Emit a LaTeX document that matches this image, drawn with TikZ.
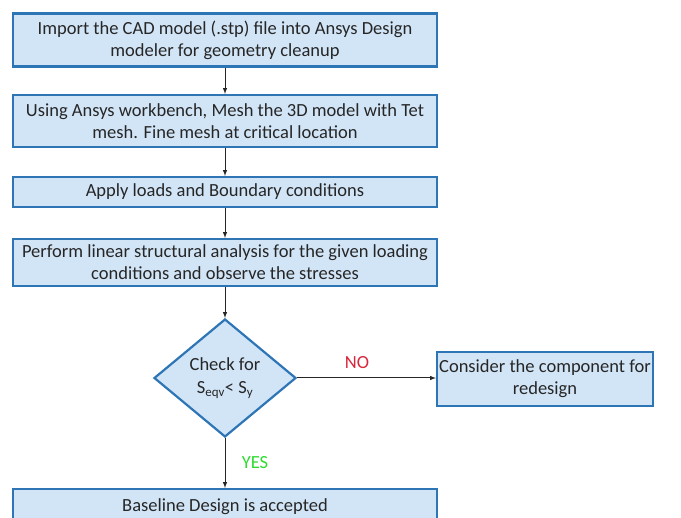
\documentclass[tikz,border=0pt]{standalone}
\usepackage{fontspec}
\setmainfont{Carlito}
\usetikzlibrary{shapes.geometric}
\definecolor{boxfill}{HTML}{D2E5F7}
\definecolor{boxline}{HTML}{2E75B6}
\definecolor{nored}{HTML}{D7263D}
\definecolor{yesgreen}{HTML}{2EDB2E}

\begin{document}
\begin{tikzpicture}[x=1pt,y=-1pt,
  stepbox/.style={draw=boxline,line width=2.2pt,fill=boxfill,align=center,
    inner sep=0pt,text=black!85,font=\fontsize{18.5}{22}\selectfont},
  checkbox/.style={diamond,draw=boxline,line width=2.2pt,fill=boxfill,align=center,
    inner sep=0pt,aspect=1.2,text=black!85,font=\fontsize{18.5}{23}\selectfont},
  flow/.style={-latex,black!85,line width=1pt}]
\useasboundingbox (0,0) rectangle (681,518);
\node [stepbox,minimum width=424pt,minimum height=53pt] (import) at (225,40)
  {Import the CAD model (.stp) file into Ansys Design\\modeler for geometry cleanup};
\node [stepbox,minimum width=424pt,minimum height=52pt] (mesh) at (225,121)
  {Using Ansys workbench, Mesh the 3D model with Tet\\mesh. Fine mesh at critical location};
\node [stepbox,minimum width=424pt,minimum height=30pt] (loads) at (225,192)
  {Apply loads and Boundary conditions};
\node [stepbox,minimum width=424pt,minimum height=47pt] (analysis) at (225,262.5)
  {Perform linear structural analysis for the given loading\\conditions and observe the stresses};
\node [checkbox,minimum width=142pt,minimum height=118pt] (check) at (225,378)
  {Check for\\S\textsubscript{eqv}< S\textsubscript{y}};
\node [stepbox,minimum width=216pt,minimum height=54pt] (redesign) at (545,379)
  {Consider the component for\\redesign};
\node [stepbox,minimum width=424pt,minimum height=36pt] (baseline) at (225,507)
  {Baseline Design is accepted};
\draw [flow] (import) -- (mesh);
\draw [flow] (mesh) -- (loads);
\draw [flow] (loads) -- (analysis);
\draw [flow] (analysis) -- (check);
\draw [flow] (check) -- (check -| redesign.west);
\draw [flow] (check) -- (baseline);
\node [text=nored,font=\fontsize{18.5}{22}\selectfont] (no) at (357,363) {NO};
\node [text=yesgreen,font=\fontsize{18.5}{22}\selectfont] (yes) at (255,463) {YES};
\end{tikzpicture}
\end{document}
